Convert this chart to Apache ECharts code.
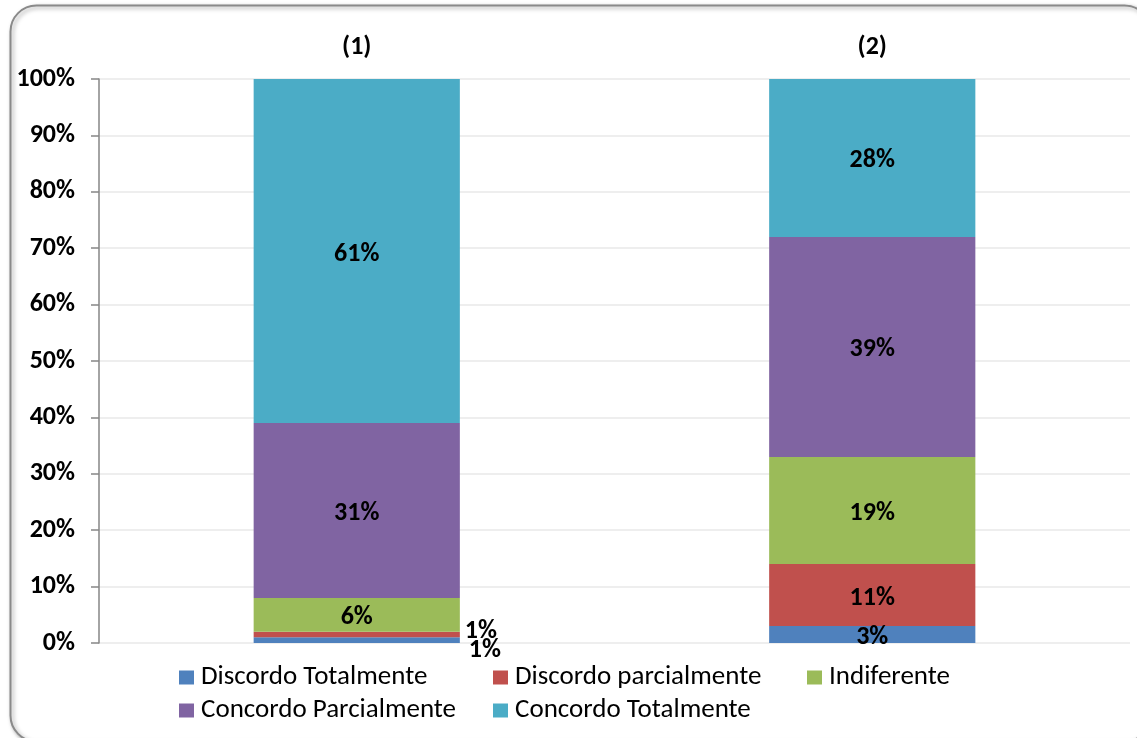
<!DOCTYPE html>
<html>
<head>
<meta charset="utf-8">
<style>
  html, body { margin: 0; padding: 0; background: #ffffff; }
  #chart { width: 1137px; height: 738px; }
</style>
<script src="https://cdn.jsdelivr.net/npm/echarts@6/dist/echarts.min.js"></script>
</head>
<body>
<div id="chart"></div>
<script>
// Categories and shares (percent) per response option
const categories = ['(1)', '(2)'];
const seriesNames = ['Discordo Totalmente', 'Discordo parcialmente', 'Indiferente', 'Concordo Parcialmente', 'Concordo Totalmente'];
const discordoTotalmente = [1, 3];
const discordoParcialmente = [1, 11];
const indiferente = [6, 19];
const concordoParcialmente = [31, 39];
const concordoTotalmente = [61, 28];
const colors = ['#4F81BD', '#C0504D', '#9BBB59', '#8064A2', '#4BACC6'];

const FONT = 'Carlito, Calibri, Lato, sans-serif';
const BOLD_SIZE = 26;
const values = [discordoTotalmente, discordoParcialmente, indiferente, concordoParcialmente, concordoTotalmente];

// Small segments of the first bar get their labels pushed beside the bar
const outsideOffsets = {
  '0-0': [4, 10],
  '1-0': [0, -3]
};

const series = seriesNames.map((name, s) => ({
  name: name,
  type: 'bar',
  stack: 'total',
  barWidth: '40%',
  itemStyle: { color: colors[s] },
  data: values[s].map((v, i) => {
    const off = outsideOffsets[s + '-' + i];
    const item = { value: v };
    if (off) {
      item.label = { position: 'right', offset: off };
    }
    return item;
  }),
  label: {
    show: true,
    position: 'inside',
    offset: [0, 3],
    formatter: '{c}%',
    color: '#000',
    fontWeight: 'bold',
    fontSize: BOLD_SIZE,
    fontFamily: FONT
  }
}));

const chart = echarts.init(document.getElementById('chart'));
chart.setOption({
  animation: false,
  graphic: [{
    type: 'rect',
    z: -10,
    shape: { x: 10.5, y: 5.5, width: 1140, height: 736, r: 26 },
    style: {
      fill: '#ffffff',
      stroke: '#8a8a8a',
      lineWidth: 2,
      shadowBlur: 4,
      shadowOffsetX: 2,
      shadowOffsetY: 2,
      shadowColor: 'rgba(0,0,0,0.35)'
    }
  }],
  grid: { left: 99, right: 7, top: 79, bottom: 95 },
  xAxis: {
    type: 'category',
    position: 'top',
    data: categories,
    axisLine: { show: false },
    axisTick: { show: false },
    axisLabel: {
      margin: 19,
      color: '#000',
      fontWeight: 'bold',
      fontSize: BOLD_SIZE,
      fontFamily: FONT
    }
  },
  yAxis: {
    type: 'value',
    min: 0,
    max: 100,
    interval: 10,
    axisLine: { show: true, lineStyle: { color: '#868686', width: 1.5 } },
    axisTick: { show: true, length: 8, lineStyle: { color: '#868686', width: 1.5 } },
    splitLine: { lineStyle: { color: '#e8e8e8', width: 1.5 } },
    axisLabel: {
      formatter: '{value}%',
      margin: 24,
      color: '#000',
      fontWeight: 'bold',
      fontSize: BOLD_SIZE,
      fontFamily: FONT
    }
  },
  legend: [
    { left: 179, top: 664, orient: 'vertical', data: [seriesNames[0], seriesNames[3]] },
    { left: 493, top: 664, orient: 'vertical', data: [seriesNames[1], seriesNames[4]] },
    { left: 807, top: 664, orient: 'vertical', data: [seriesNames[2]] }
  ].map(l => Object.assign(l, {
    padding: 0,
    icon: 'rect',
    itemWidth: 15,
    itemHeight: 14,
    itemGap: 6,
    textStyle: { color: '#000', fontSize: 27, fontFamily: FONT, padding: [0, 0, 0, 2] }
  })),
  series: series
});
</script>
</body>
</html>
